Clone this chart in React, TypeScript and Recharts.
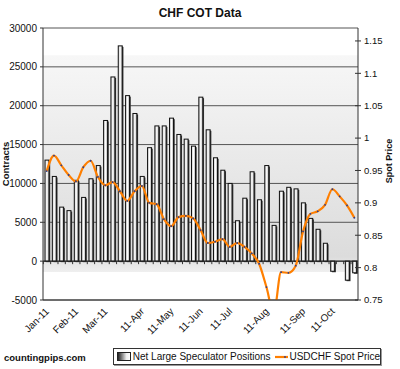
import { Bar, CartesianGrid, ComposedChart, Legend, Line, ReferenceArea, ReferenceLine, XAxis, YAxis } from "recharts";

const WEEKS = [
  "4-Jan", "11-Jan", "18-Jan", "25-Jan", "1-Feb", "8-Feb", "15-Feb", "22-Feb",
  "1-Mar", "8-Mar", "15-Mar", "22-Mar", "29-Mar", "5-Apr", "12-Apr", "19-Apr", "26-Apr",
  "3-May", "10-May", "17-May", "24-May", "31-May", "7-Jun", "14-Jun", "21-Jun", "28-Jun",
  "5-Jul", "12-Jul", "19-Jul", "26-Jul", "2-Aug", "9-Aug", "16-Aug", "23-Aug", "30-Aug",
  "6-Sep", "13-Sep", "20-Sep", "27-Sep", "4-Oct", "11-Oct", "18-Oct", "25-Oct",
];

const NET_POSITIONS = [
  13000, 10900, 6950, 6500, 10400, 8200, 10600, 12300, 18100, 23700, 27700, 21300, 19000,
  10900, 14600, 17400, 17400, 18400, 16300, 15700, 14800, 21100, 16900, 13300, 11700, 10000,
  5200, 8100, 11500, 7900, 12300, 4600, 9000, 9500, 9300, 7500, 5500, 4100, 2300, -1300, 0,
  -2450, -1500,
];

const SPOT_PRICE = [
  0.949, 0.973, 0.958, 0.943, 0.933, 0.955, 0.965, 0.94, 0.927, 0.932, 0.918, 0.903, 0.918,
  0.926, 0.9, 0.898, 0.875, 0.864, 0.878, 0.88, 0.876, 0.858, 0.838, 0.84, 0.844, 0.832,
  0.838, 0.832, 0.822, 0.806, 0.77, 0.73, 0.793, 0.792, 0.803, 0.856, 0.883, 0.887, 0.897,
  0.921, 0.91, 0.896, 0.877,
];

const MONTH_TICK_WEEKS = ["4-Jan", "1-Feb", "1-Mar", "5-Apr", "3-May", "31-May", "28-Jun", "2-Aug", "6-Sep", "4-Oct"];
const MONTH_TICK_LABELS = ["Jan-11", "Feb-11", "Mar-11", "11-Apr", "11-May", "11-Jun", "11-Jul", "11-Aug", "11-Sep", "11-Oct"];

const LEFT_TICKS = [-5000, 0, 5000, 10000, 15000, 20000, 25000, 30000];
const RIGHT_TICKS = [0.75, 0.8, 0.85, 0.9, 0.95, 1, 1.05, 1.1, 1.15];

const data = WEEKS.map((week, i) => ({ week, net: NET_POSITIONS[i], spot: SPOT_PRICE[i] }));

const FONT = "'Liberation Sans', Arial, sans-serif";
const SLOT = (358 - 43) / WEEKS.length;

function CotBar(props: any) {
  const { x, y, width, height, payload } = props;
  const top = Math.min(y, y + height);
  const h = Math.abs(height);
  const zeroY = payload.net >= 0 ? top + h : top;
  const tickX = x + width / 2 - SLOT / 2;
  return (
    <g>
      <line x1={tickX} x2={tickX} y1={zeroY} y2={zeroY + 3} stroke="#333" />
      {h > 0 && (
        <>
          <rect x={x + 1.2} y={top + 1} width={width} height={h} fill="#3a3a3a" />
          <rect x={x} y={top} width={width} height={h} fill="url(#barFill)" stroke="#111" strokeWidth={1} />
        </>
      )}
    </g>
  );
}

function MonthTick(props: any) {
  const { x, y, payload } = props;
  const idx = MONTH_TICK_WEEKS.indexOf(payload.value);
  if (idx < 0) return null;
  const ax = x + 3;
  const ay = y + 4;
  return (
    <text x={ax} y={ay} transform={`rotate(-45 ${ax} ${ay})`} textAnchor="end" fontSize={10} fill="#111" fontFamily={FONT}>
      {MONTH_TICK_LABELS[idx]}
    </text>
  );
}

// right axis ticks cross the axis line in the original
function PriceTick(props: any) {
  const { x, y, payload } = props;
  return (
    <g>
      <line x1={x - 10} x2={x - 4} y1={y} y2={y} stroke="#333" />
      <text x={x - 1} y={y} dy="0.35em" fontSize={9.5} fill="#111" fontFamily={FONT}>
        {String(payload.value)}
      </text>
    </g>
  );
}

function LegendBox() {
  return (
    <div
      style={{
        boxSizing: "border-box",
        width: 268,
        height: 17,
        border: "1px solid #333",
        boxShadow: "1px 1px 0 #999",
        background: "#fff",
        display: "flex",
        alignItems: "center",
        fontFamily: FONT,
        fontSize: 10,
        color: "#111",
        whiteSpace: "nowrap",
        paddingLeft: 3,
      }}
    >
      <span
        style={{
          display: "inline-block",
          width: 17,
          height: 7,
          border: "1px solid #222",
          background: "linear-gradient(to right, #222, #eee 70%, #fff)",
          marginRight: 2,
        }}
      />
      <span>Net Large Speculator Positions</span>
      <svg width={20} height={8} style={{ marginLeft: 4, marginRight: 1 }}>
        <line x1={0} x2={20} y1={4} y2={4} stroke="#ff7f00" strokeWidth={2.2} />
        <circle cx={10} cy={4} r={0.9} fill="#2a3d8f" />
      </svg>
      <span>USDCHF Spot Price</span>
    </div>
  );
}

export default function App() {
  return (
    <div style={{ position: "relative", width: 400, height: 369, background: "#fff", fontFamily: FONT }}>
      <style>{"body{margin:0}"}</style>
      <div style={{ position: "absolute", top: 6, left: 0, width: 400, textAlign: "center", fontSize: 12, fontWeight: "bold", color: "#111" }}>
        CHF COT Data
      </div>
      <ComposedChart width={400} height={369} data={data} margin={{ top: 28, right: 0, bottom: 0, left: 0 }} barSize={4}>
        <defs>
          <linearGradient id="plotBg" x1="0" y1="0" x2="0" y2="1">
            <stop offset="0" stopColor="#f7f7f7" />
            <stop offset="0.93" stopColor="#dcdcdc" />
            <stop offset="0.96" stopColor="#e6e6e6" />
            <stop offset="1" stopColor="#efefef" />
          </linearGradient>
          <linearGradient id="barFill" x1="0" y1="0" x2="1" y2="0">
            <stop offset="0" stopColor="#c8c8c8" />
            <stop offset="0.5" stopColor="#ffffff" />
            <stop offset="1" stopColor="#a0a0a0" />
          </linearGradient>
        </defs>
        <ReferenceArea yAxisId="left" y1={-1400} y2={26500} fill="url(#plotBg)" fillOpacity={1} stroke="none" zIndex={-200} />
        <CartesianGrid yAxisId="left" vertical={false} stroke="#555" />
        <XAxis
          dataKey="week"
          interval={0}
          tickLine={false}
          axisLine={{ stroke: "#333" }}
          height={69}
          tick={<MonthTick />}
        />
        <YAxis
          yAxisId="left"
          domain={[-5000, 30000]}
          ticks={LEFT_TICKS}
          interval={0}
          width={43}
          tickSize={3}
          tickMargin={3}
          axisLine={{ stroke: "#333" }}
          tickLine={{ stroke: "#333" }}
          tick={{ fontSize: 10, fill: "#111", fontFamily: FONT }}
          label={{
            content: () => (
              <text x={9} y={164} transform="rotate(-90 9 164)" textAnchor="middle" fontSize={9.5} fontWeight="bold" fill="#111" fontFamily={FONT}>
                Contracts
              </text>
            ),
          }}
        />
        <YAxis
          yAxisId="right"
          orientation="right"
          domain={[0.75, 1.17]}
          ticks={RIGHT_TICKS}
          interval={0}
          allowDataOverflow
          width={42}
          tickSize={3}
          tickMargin={4}
          axisLine={{ stroke: "#333" }}
          tickLine={false}
          tick={<PriceTick />}
          label={{
            content: () => (
              <text x={392} y={161} transform="rotate(-90 392 161)" textAnchor="middle" fontSize={9} fontWeight="bold" fill="#111" fontFamily={FONT}>
                Spot Price
              </text>
            ),
          }}
        />
        <ReferenceLine yAxisId="left" y={0} stroke="#222" />
        <Bar yAxisId="left" dataKey="net" shape={<CotBar />} isAnimationActive={false} />
        <Line
          yAxisId="right"
          dataKey="spot"
          type="monotone"
          stroke="#ff7f00"
          strokeWidth={2.2}
          dot={{ r: 0.9, fill: "#2a3d8f", stroke: "none" }}
          activeDot={false}
          isAnimationActive={false}
        />
        <Legend
          verticalAlign="middle"
          align="center"
          layout="horizontal"
          wrapperStyle={{ position: "absolute", left: 113, top: 348, width: 268, height: 17 }}
          content={() => <LegendBox />}
        />
      </ComposedChart>
      <div style={{ position: "absolute", left: 4, top: 352, fontSize: 9.5, fontWeight: "bold", color: "#111" }}>
        countingpips.com
      </div>
    </div>
  );
}
